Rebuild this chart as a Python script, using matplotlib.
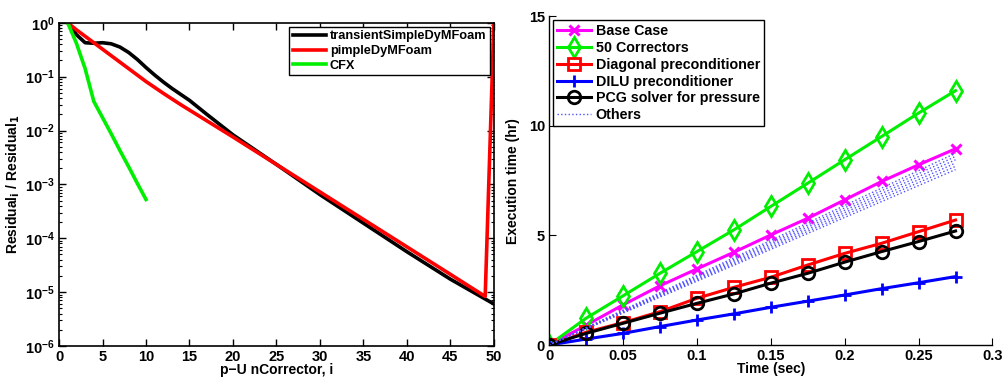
import matplotlib
matplotlib.use("Agg")
import matplotlib.pyplot as plt
from matplotlib.ticker import LogLocator, NullFormatter

plt.rcParams["font.family"] = ["Liberation Sans", "DejaVu Sans"]
plt.rcParams["font.weight"] = "bold"
plt.rcParams["axes.labelweight"] = "bold"
plt.rcParams["mathtext.default"] = "bf"

# --- left panel: residual history (log10 of Residual_i / Residual_1) ---
ts_x = [1, 2, 3, 4, 5, 6, 7, 8, 9, 10, 11, 12, 13, 14, 15, 17, 20, 25, 30, 35, 40, 45, 50]
ts_log = [0, -0.22, -0.37, -0.38, -0.37, -0.39, -0.45, -0.55, -0.68, -0.83, -0.97,
          -1.10, -1.22, -1.33, -1.44, -1.70, -2.08, -2.63, -3.19, -3.72, -4.25, -4.76, -5.22]
pimple_x = [1, 2, 3, 4, 5, 6, 7, 8, 9, 10, 12, 14, 16, 20, 25, 30, 35, 40, 45, 49, 50]
pimple_log = [0, -0.13, -0.25, -0.37, -0.49, -0.61, -0.73, -0.85, -0.97, -1.09, -1.31,
              -1.52, -1.72, -2.12, -2.63, -3.14, -3.65, -4.16, -4.67, -5.08, 0.0]
cfx_x = [1, 2, 3, 4, 5, 6, 7, 8, 9, 10]
cfx_log = [0, -0.38, -0.85, -1.46, -1.76, -2.06, -2.37, -2.67, -2.98, -3.28]

# --- right panel: execution time (hr) vs simulated time (sec) ---
time_sec = [0, 0.025, 0.05, 0.075, 0.1, 0.125, 0.15, 0.175, 0.2, 0.225, 0.25, 0.275]
base_case = [0, 0.9, 1.83, 2.70, 3.47, 4.23, 5.02, 5.78, 6.62, 7.46, 8.22, 8.95]
correctors50 = [0, 1.22, 2.24, 3.27, 4.26, 5.25, 6.32, 7.38, 8.45, 9.51, 10.58, 11.6]
diagonal = [0, 0.58, 1.02, 1.52, 2.13, 2.63, 3.09, 3.65, 4.18, 4.64, 5.17, 5.70]
dilu = [0, 0.27, 0.53, 0.84, 1.14, 1.42, 1.72, 2.00, 2.28, 2.57, 2.84, 3.12]
pcg = [0, 0.53, 0.99, 1.45, 1.90, 2.33, 2.82, 3.27, 3.78, 4.26, 4.72, 5.20]
others_end = [8.75, 8.6, 8.45, 8.3, 8.15, 8.0]
others_x = [0, 0.275]

fig = plt.figure(figsize=(10.02, 3.78), dpi=100)

# left
ax1 = fig.add_axes([0.0589, 0.0847, 0.434, 0.855])
lw = 2.6
ax1.semilogy(ts_x, [10 ** v for v in ts_log], color="black", lw=lw, label="transientSimpleDyMFoam")
ax1.semilogy(pimple_x, [10 ** v for v in pimple_log], color="red", lw=lw, label="pimpleDyMFoam")
ax1.semilogy(cfx_x, [10 ** v for v in cfx_log], color="#00ee00", lw=lw, label="CFX")
ax1.set_xlim(0, 50)
ax1.set_ylim(1e-6, 1)
ax1.set_xticks(range(0, 51, 5))
ax1.yaxis.set_major_locator(LogLocator(base=10, numticks=10))
ax1.yaxis.set_minor_locator(LogLocator(base=10, subs=range(2, 10), numticks=10))
ax1.yaxis.set_minor_formatter(NullFormatter())
ax1.tick_params(which="both", direction="in", top=True, right=True, labelsize=10.5)
ax1.tick_params(which="major", length=5, width=1, pad=3)
ax1.tick_params(which="minor", length=2.5, width=0.8)
for s in ax1.spines.values():
    s.set_linewidth(1.2)
ax1.set_xlabel("p\u2212U nCorrector, i", fontsize=10, labelpad=-1)
ax1.set_ylabel("Residual$_\\mathbf{i}$ / Residual$_\\mathbf{1}$", fontsize=10, labelpad=2)
leg1 = ax1.legend(loc="upper right", fontsize=9.2, handlelength=2.6, borderaxespad=0.3,
                  fancybox=False, edgecolor="black", framealpha=1,
                  labelspacing=0.2, borderpad=0.3, handletextpad=0.3)
leg1.get_frame().set_linewidth(1.0)

# right
ax2 = fig.add_axes([0.548, 0.0873, 0.4425, 0.870])
mlw = 2.0
ax2.plot(time_sec, base_case, color="magenta", lw=2.2, marker="x", ms=7, mew=2.2,
         label="Base Case")
ax2.plot(time_sec, correctors50, color="#00ee00", lw=2.2, marker="d", ms=10, mew=mlw,
         mfc="none", label="50 Correctors")
ax2.plot(time_sec, diagonal, color="red", lw=2.2, marker="s", ms=8, mew=mlw,
         mfc="none", label="Diagonal preconditioner")
ax2.plot(time_sec, dilu, color="blue", lw=2.2, marker="+", ms=9, mew=mlw,
         label="DILU preconditioner")
ax2.plot(time_sec, pcg, color="black", lw=2.2, marker="o", ms=9, mew=mlw,
         mfc="none", label="PCG solver for pressure")
for i, v in enumerate(others_end):
    ax2.plot(others_x, [0, v], color="#5050ff", lw=1.0, ls=":",
             label="Others" if i == 0 else None)
ax2.set_xlim(0, 0.3)
ax2.set_ylim(0, 15)
ax2.set_xticks([0, 0.05, 0.1, 0.15, 0.2, 0.25, 0.3])
ax2.set_xticklabels(["0", "0.05", "0.1", "0.15", "0.2", "0.25", "0.3"])
ax2.set_yticks([0, 5, 10, 15])
ax2.spines[["top", "right"]].set_visible(False)
for s in ("left", "bottom"):
    ax2.spines[s].set_linewidth(1.0)
ax2.tick_params(direction="in", length=5, labelsize=10.5, pad=3)
ax2.set_xlabel("Time (sec)", fontsize=10, labelpad=-1)
ax2.set_ylabel("Execution time (hr)", fontsize=10, labelpad=6)
leg2 = ax2.legend(loc="upper left", fontsize=10.3, handlelength=2.4, borderaxespad=0.3,
                  fancybox=False, edgecolor="black", framealpha=1,
                  labelspacing=0.2, borderpad=0.25, handletextpad=0.3)
leg2.get_frame().set_linewidth(1.0)

fig.savefig("out.png", dpi=100)
